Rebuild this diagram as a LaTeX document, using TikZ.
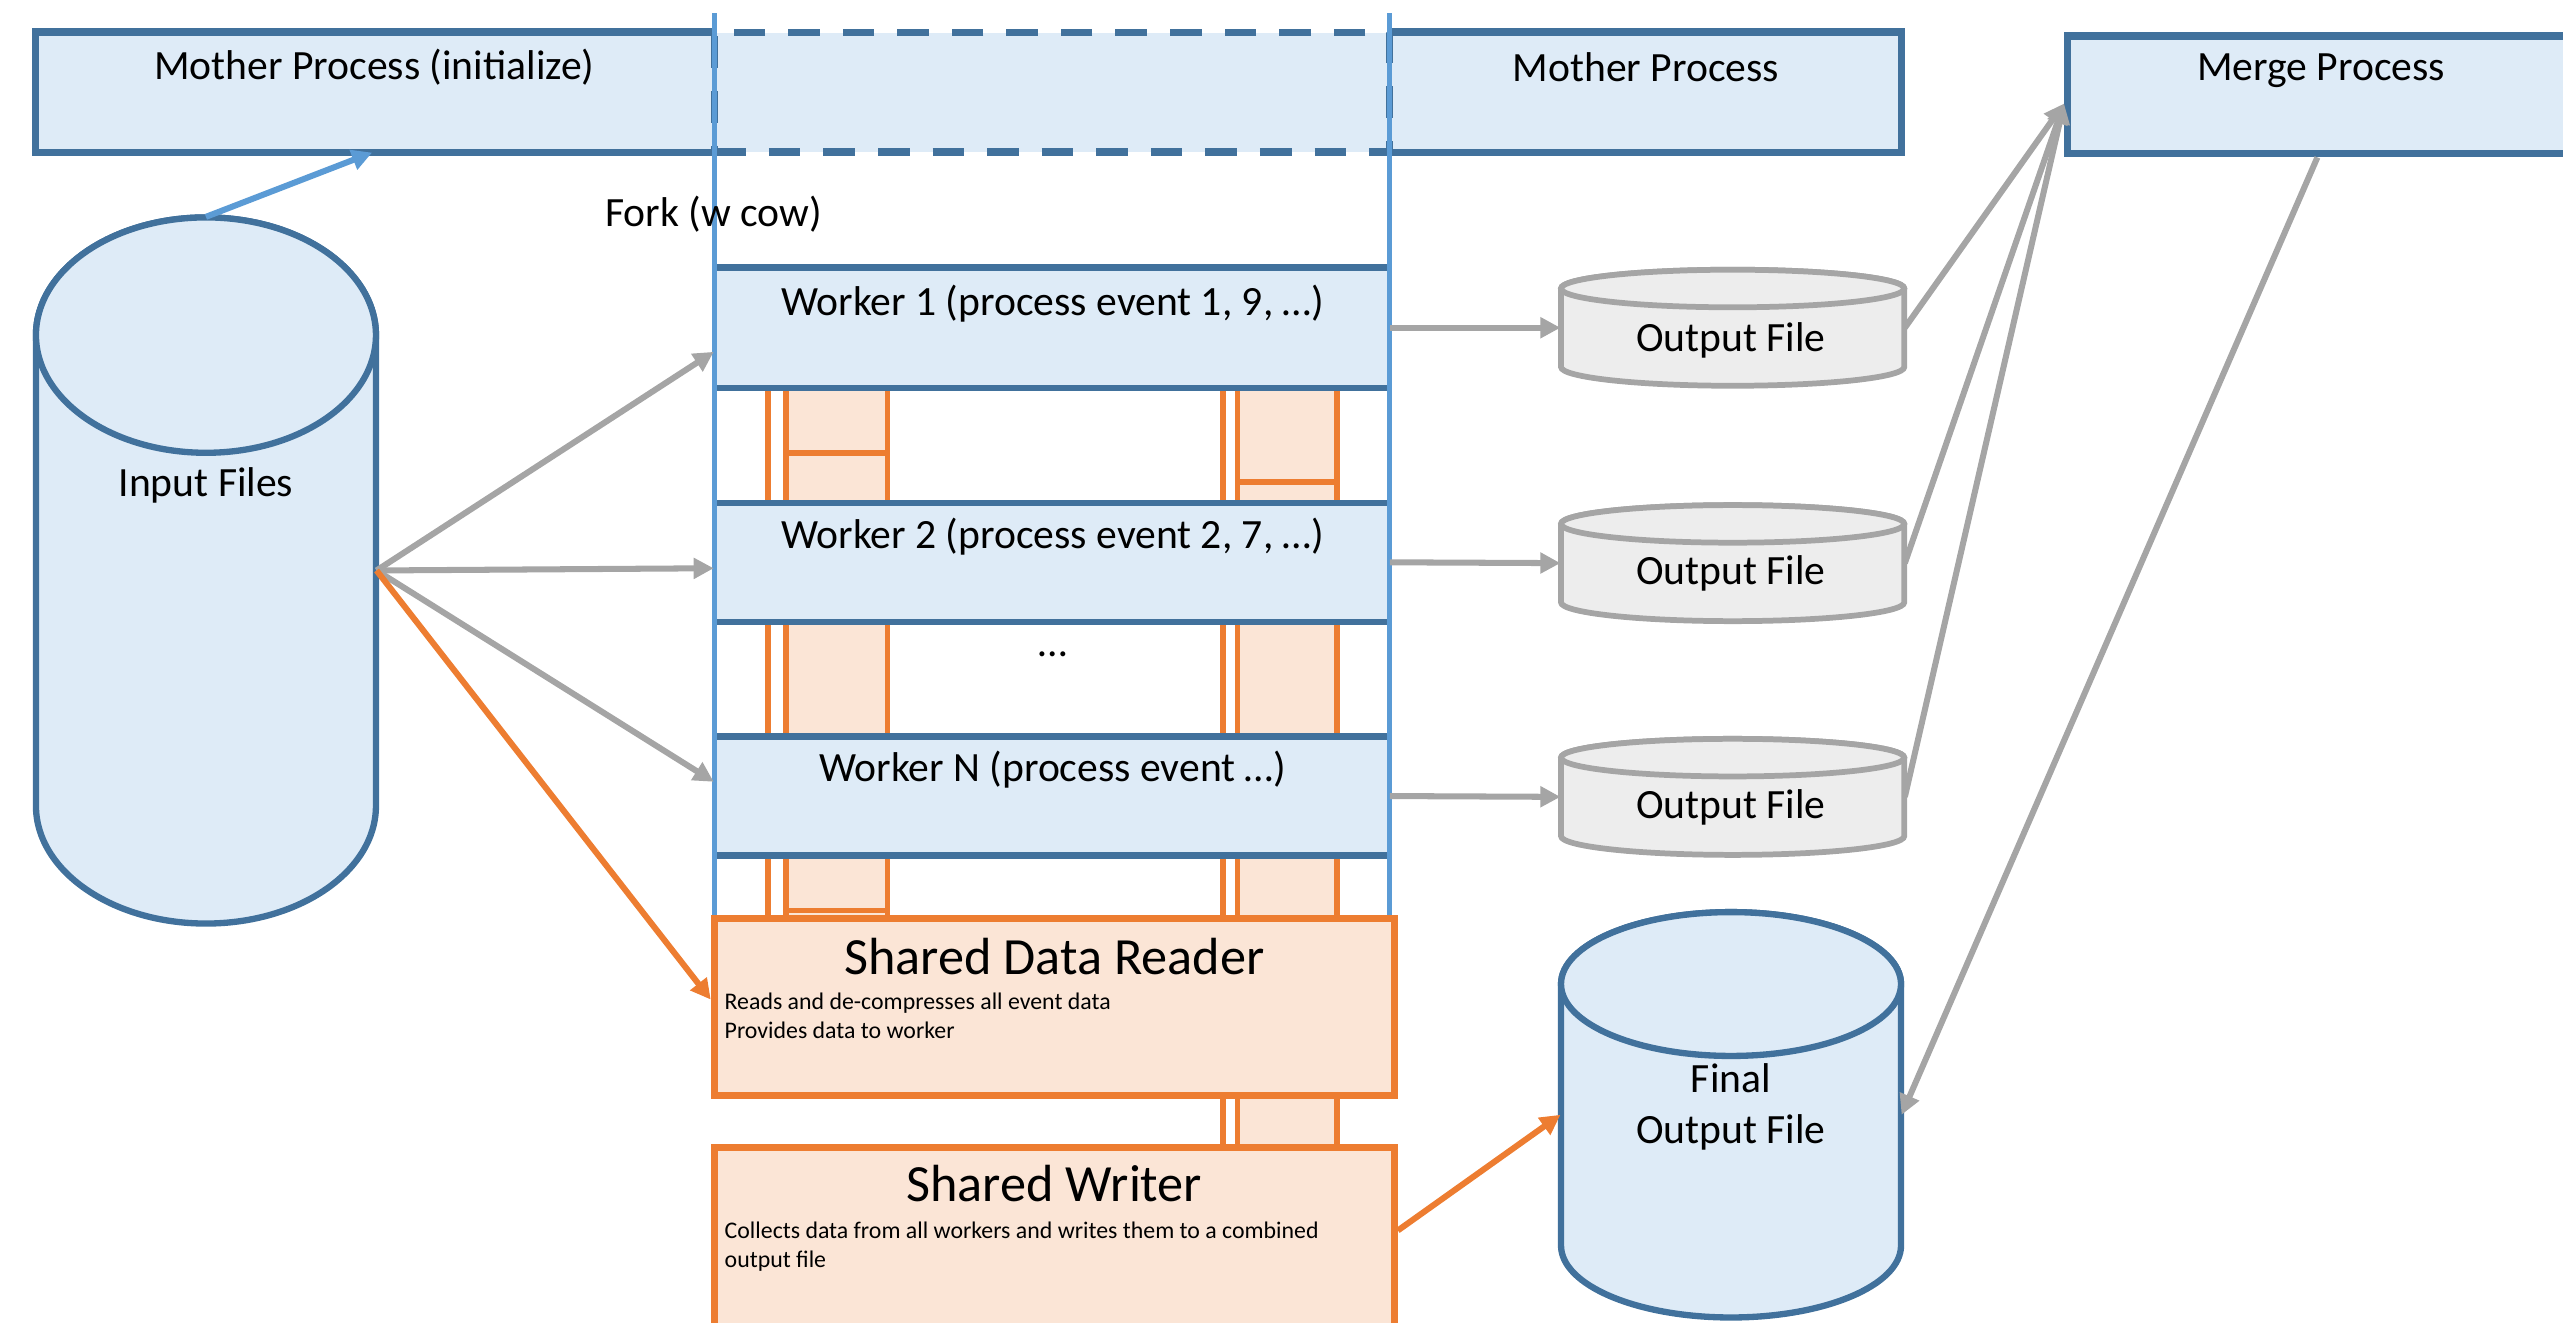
\documentclass[tikz,border=0pt]{standalone}
\usepackage{fontspec}
\setmainfont{Carlito}
\usetikzlibrary{arrows.meta,fit,calc}

\definecolor{dkblue}{HTML}{41719C}
\definecolor{ltblue}{HTML}{5B9BD5}
\definecolor{paleblue}{HTML}{DEEBF7}
\definecolor{orng}{HTML}{ED7D31}
\definecolor{peach}{HTML}{FBE5D6}
\definecolor{gry}{HTML}{A5A5A5}
\definecolor{palegry}{HTML}{EDEDED}

% vertical storage drum: name, centre x, x radius, top y, bottom y, y radius, style
\newcommand\drumshape[7]{%
  \path[#7] ({#2-#3},{#4-#6}) -- ({#2-#3},{#5+#6})
    arc[start angle=180,end angle=360,x radius=#3,y radius=#6]
    -- ({#2+#3},{#4-#6})
    arc[start angle=0,end angle=180,x radius=#3,y radius=#6] -- cycle;
  \path[#7] (#2,{#4-#6}) ellipse[x radius=#3,y radius=#6];
  \node[fit={({#2-#3},#4)({#2+#3},#5)},inner sep=0pt] (#1) {};
}

\begin{document}
\begin{tikzpicture}[x=0.02cm,y=0.02cm,
  lbl/.style={font=\fontsize{14.5}{17.6}\selectfont,inner sep=0pt},
  ttl/.style={font=\fontsize{18.2}{21}\selectfont,inner sep=0pt},
  small/.style={font=\fontsize{8.3}{10.2}\selectfont,inner sep=0pt,align=left},
  barfill/.style={fill=paleblue,inner sep=0pt},
  barline/.style={draw=dkblue,line width=2.6pt},
  wline/.style={draw=dkblue,line width=2.2pt},
  vline/.style={draw=ltblue,line width=1.8pt},
  pipe/.style={draw=orng,line width=2pt},
  sharedbox/.style={fill=peach,draw=orng,line width=2.5pt,inner sep=0pt},
  bluedrum/.style={fill=paleblue,draw=dkblue,line width=2.2pt},
  graydrum/.style={fill=palegry,draw=gry,line width=2pt},
  gar/.style={draw=gry,line width=2.1pt,-{Triangle[length=7pt,width=7pt]}},
  oar/.style={draw=orng,line width=2.1pt,-{Triangle[length=7pt,width=7pt]}},
  bar/.style={draw=ltblue,line width=2.1pt,-{Triangle[length=7pt,width=7pt]}}]

\useasboundingbox (0,0) rectangle (1568,-809);
\clip (0,0) rectangle (1568,-809);

% process bars along the top
\node[barfill,fit={(22,-20)(437,-93)}] (mp) {};
\draw[barline] (mp.north east) -- (mp.north west) -- (mp.south west) -- (mp.south east);
\node[barfill,fit={(850,-20)(1163,-93)}] (mp2) {};
\draw[barline] (mp2.north west) -- (mp2.north east) -- (mp2.south east) -- (mp2.south west);
\node[barfill,fit={(437,-20)(850,-93)},draw=dkblue,line width=2.6pt,
      dash pattern=on 11pt off 8pt] (forkbar) {};
\node[barfill,fit={(1265,-22)(1640,-94)},draw=dkblue,line width=2.6pt] (merge) {};

% input data
\drumshape{inp}{126}{104}{-133}{-565}{72}{bluedrum}

% shared memory pipes
\fill[peach] (481,-237) rectangle (543,-562);
\draw[pipe] (470,-237) -- (470,-562) (481,-237) -- (481,-562) (543,-237) -- (543,-562);
\draw[pipe] (481,-277) -- (543,-277) (481,-557) -- (543,-557);
\fill[peach] (757,-237) rectangle (818,-562);
\draw[pipe] (748,-237) -- (748,-562) (757,-237) -- (757,-562) (818,-237) -- (818,-562);
\draw[pipe] (757,-295) -- (818,-295);
\fill[peach] (757,-670) rectangle (818,-702);
\draw[pipe] (748,-670) -- (748,-702) (757,-670) -- (757,-702) (818,-670) -- (818,-702);

% workers
\node[barfill,fit={(437,-164)(850,-237)}] (w1) {};
\draw[wline] (w1.north west) -- (w1.north east) (w1.south west) -- (w1.south east);
\node[barfill,fit={(437,-308)(850,-380)}] (w2) {};
\draw[wline] (w2.north west) -- (w2.north east) (w2.south west) -- (w2.south east);
\node[barfill,fit={(437,-451)(850,-523)}] (wn) {};
\draw[wline] (wn.north west) -- (wn.north east) (wn.south west) -- (wn.south east);

% forked region boundaries
\coordinate (fa) at (437,-8);
\coordinate (fb) at (437,-562);
\coordinate (fc) at (850,-8);
\coordinate (fd) at (850,-562);
\draw[vline] (fa) -- (fb) (fc) -- (fd);

% shared reader and writer
\node[sharedbox,fit={(437,-562)(853,-670)}] (sdr) {};
\node[sharedbox,fit={(437,-702)(853,-830)}] (sw) {};

% output files
\drumshape{of1}{1060}{105}{-165}{-236}{11.5}{graydrum}
\drumshape{of2}{1060}{105}{-309}{-380}{11.5}{graydrum}
\drumshape{of3}{1060}{105}{-452}{-523}{11.5}{graydrum}
\drumshape{fin}{1059}{104}{-558}{-806}{44}{bluedrum}

% connectors
\draw[bar] (inp.north) -- ($(mp.south west)+(206,0)$);
\draw[gar] (inp.east) -- ($(w1.north west)!0.7!(w1.south west)$);
\draw[gar] (inp.east) -- ($(w2.north west)!0.55!(w2.south west)$);
\draw[gar] (inp.east) -- ($(wn.north west)!0.38!(wn.south west)$);
\draw[oar] (inp.east) -- ($(sdr.north west)!0.46!(sdr.south west)$);
\draw[gar] (w1.east) -- (of1.west);
\draw[gar] (w2.east) -- (of2.west);
\draw[gar] (wn.east) -- (of3.west);
\draw[gar] (of1.east) -- ($(merge.north west)!0.57!(merge.south west)$);
\draw[gar] (of2.east) -- ($(merge.north west)!0.57!(merge.south west)$);
\draw[gar] (of3.east) -- ($(merge.north west)!0.57!(merge.south west)$);
\draw[gar] ($(merge.south west)+(155,0)$) -- (fin.east);
\draw[oar] ($(sw.north east)!0.4!(sw.south east)$) -- (fin.west);

% labels
\node[lbl] (tmp) at (229,-41) {Mother Process (initialize)};
\node[lbl] (tmp2) at (1007,-41) {Mother Process};
\node[lbl] (tmerge) at (1420,-43) {Merge Process};
\node[lbl,anchor=west] (tfork) at (370,-131) {Fork (w cow)};
\node[lbl] (tin) at (126,-297) {Input Files};
\node[lbl] (tw1) at (644,-186) {Worker 1 (process event 1, 9, …)};
\node[lbl] (tw2) at (644,-328) {Worker 2 (process event 2, 7, …)};
\node[lbl] (tdots) at (644,-400) {…};
\node[lbl] (twn) at (644,-471) {Worker N (process event …)};
\node[ttl] (tsdr) at (645,-585) {Shared Data Reader};
\node[small,anchor=north west] (dsdr) at (443,-607) {Reads and de-compresses all event data\\Provides data to worker};
\node[ttl] (tsw) at (645,-724) {Shared Writer};
\node[small,anchor=north west] (dsw) at (443,-747) {Collects data from all workers and writes them to a combined\\output file};
\node[lbl] (to1) at (1059,-208) {Output File};
\node[lbl] (to2) at (1059,-351) {Output File};
\node[lbl] (to3) at (1059,-494) {Output File};
\node[lbl,align=center] (tfin) at (1059,-677) {Final\\Output File};
\end{tikzpicture}
\end{document}
